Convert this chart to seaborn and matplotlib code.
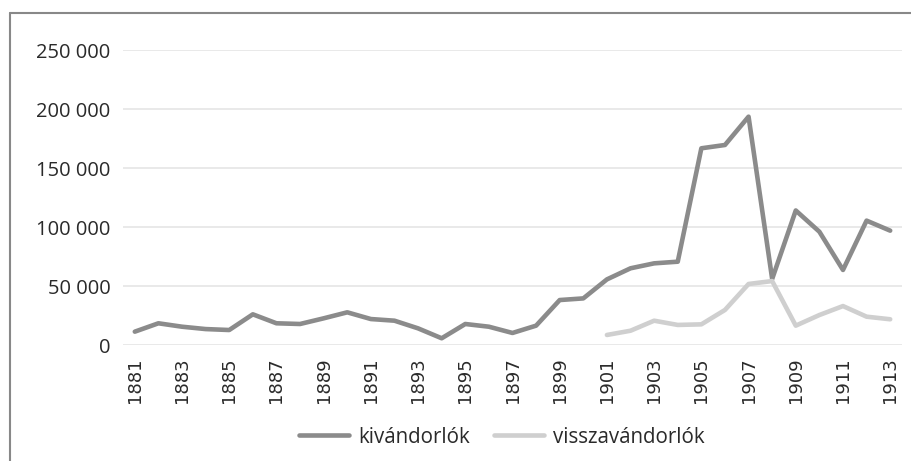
import matplotlib
matplotlib.use("Agg")
import matplotlib.pyplot as plt
import seaborn as sns
import pandas as pd
import numpy as np
from matplotlib.lines import Line2D
from matplotlib.ticker import FuncFormatter

years = list(range(1881, 1914))
kivandorlok = [11300, 18400, 15500, 13500, 12700, 26000, 18400, 17800, 22600, 27700,
               22000, 20600, 14100, 5700, 17800, 15500, 10200, 16400, 38100, 39500,
               55600, 65000, 69200, 70600, 166700, 169500, 193500, 56000, 114000, 96000,
               63600, 105400, 96900]
vissza_years = list(range(1901, 1914))
visszavandorlok = [8500, 12100, 20600, 17000, 17500, 29700, 51700, 54200, 16400, 25400,
                   33000, 24000, 21800]
tick_years = list(range(1881, 1914, 2))
series_names = ["kivándorlók", "visszavándorlók"]
colors = ["#8b8b8b", "#cfcfcf"]

df = pd.concat([
    pd.DataFrame({"year": years, "value": kivandorlok, "series": series_names[0]}),
    pd.DataFrame({"year": vissza_years, "value": visszavandorlok, "series": series_names[1]}),
])

sns.set_style("white")
plt.rcParams["font.family"] = ["Open Sans", "DejaVu Sans"]

fig = plt.figure(figsize=(9.11, 4.61), dpi=100)
ax = fig.add_axes([123 / 911, 1 - 345 / 461, (902 - 123) / 911, (345 - 50) / 461])

sns.lineplot(data=df, x="year", y="value", hue="series", palette=colors,
             linewidth=3.3, ax=ax, legend=False, sort=False)

ax.set_xlim(1880.5, 1913.5)
ax.set_ylim(0, 250000)
ax.set_yticks(range(0, 250001, 50000))
ax.yaxis.set_major_formatter(FuncFormatter(lambda v, p: f"{int(v):,}".replace(",", " ")))
ax.set_xticks(tick_years)
ax.set_xticklabels([str(y) for y in tick_years], rotation=90, family="DejaVu Sans")
ax.tick_params(axis="y", labelsize=14.5, colors="#2a2a2a", length=0, pad=9)
ax.tick_params(axis="x", labelsize=13, colors="#2a2a2a", length=0, pad=9)
ax.grid(axis="y", color="#e3e3e3", linewidth=1.1)
ax.set_axisbelow(True)
for s in ax.spines.values():
    s.set_visible(False)
ax.set_xlabel("")
ax.set_ylabel("")

handles = [Line2D([0], [0], color=c, lw=3.3) for c in colors]
fig.legend(handles, series_names, loc="center", bbox_to_anchor=(502 / 911, 1 - 437 / 461),
           ncol=2, frameon=False, fontsize=14.8, handlelength=2.43, columnspacing=1.15,
           handletextpad=0.44, labelcolor="#2a2a2a")

# outer frame (top and left border)
fig.add_artist(Line2D([10 / 911, 1.0], [1 - 13 / 461, 1 - 13 / 461], transform=fig.transFigure,
                      color="#888888", lw=1.5))
fig.add_artist(Line2D([10 / 911, 10 / 911], [1 - 13 / 461, 0], transform=fig.transFigure,
                      color="#888888", lw=1.5))

fig.savefig("out.png", dpi=100)
